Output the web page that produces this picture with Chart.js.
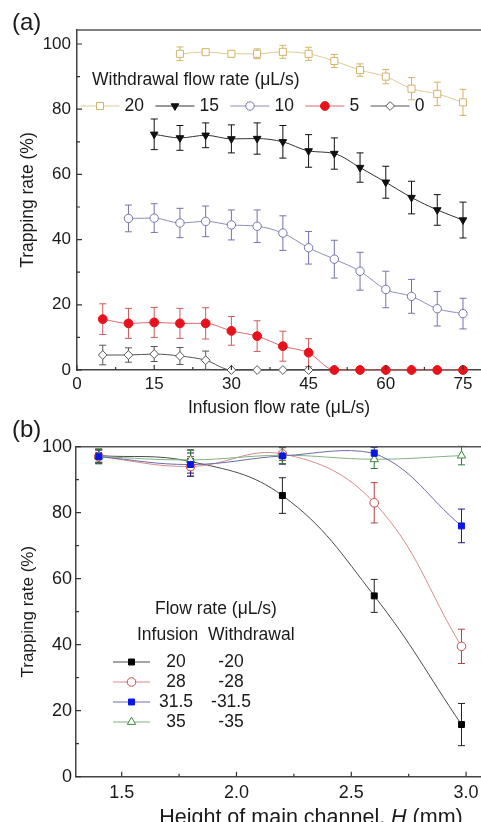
<!DOCTYPE html>
<html>
<head>
<title>Trapping rate</title>
<script src="https://cdn.jsdelivr.net/npm/chart.js"></script>
<style>
  body { margin: 0; background: #fff; }
  .panel { position: absolute; left: 0; width: 481px; }
  #panelA { top: 0; height: 422px; }
  #panelB { top: 411px; height: 411px; z-index: 1; }
</style>
</head>
<body>
<div class="panel" id="panelA"><canvas id="chartA"></canvas></div>
<div class="panel" id="panelB"><canvas id="chartB"></canvas></div>
<script>
// (a) trapping rate vs infusion flow rate, one series per withdrawal flow rate
const infusionA = [5, 10, 15, 20, 25, 30, 35, 40, 45, 50, 55, 60, 65, 70, 75];
const withdrawalA = ['20', '15', '10', '5', '0'];
const rate20 = [null, null, null, 97, 97.5, 97, 97, 97.6, 97, 94.8, 92, 90, 86.3, 84.7, 82.1];
const err20 = [null, null, null, 2.1, 0.6, 1, 1.5, 2, 2, 2, 1.9, 2.2, 3.4, 3.6, 4];
const rate15 = [null, null, 72.3, 71.2, 72, 70.9, 71, 70, 67.2, 66.4, 62.1, 57.6, 52.9, 49.1, 46];
const err15 = [null, null, 4.7, 3.8, 3.8, 4.3, 4.8, 5, 5, 4.8, 4.5, 4.9, 5, 4.7, 5.5];
const rate10 = [null, 46.5, 46.6, 45.1, 45.6, 44.5, 44.1, 42, 37.5, 34, 30.3, 24.7, 22.6, 18.8, 17.3];
const err10 = [null, 4.1, 4.4, 4.5, 4.7, 4.6, 5, 5.3, 5, 5.8, 5.8, 5.6, 5.2, 5.3, 4.7];
const rate5 = [15.6, 14.3, 14.6, 14.3, 14.3, 12, 10.4, 7.3, 5.3, 0, 0, 0, 0, 0, 0];
const err5 = [4.7, 4.6, 4.6, 4.6, 4.8, 4.4, 4.7, 4.6, 4.3, 0, 0, 0, 0, 0, 0];
const rate0 = [4.6, 4.6, 4.9, 4.3, 3, 0, 0, 0, 0, 0, 0, 0, 0, 0, 0];
const err0 = [3, 2.2, 2.3, 2.6, 2.8, 0, 0, 0, 0, 0, 0, 0, 0, 0, 0];
const xTicksA = [0, 15, 30, 45, 60, 75];
const xMinorA = [7.5, 22.5, 37.5, 52.5, 67.5];
const yTicksA = [0, 20, 40, 60, 80, 100];
const yMinorA = [10, 30, 50, 70, 90];

// (b) trapping rate vs channel height, one series per flow rate pair
const heightB = [1.4, 1.8, 2.2, 2.6, 2.98];
const infusionB = ['20', '28', '31.5', '35'];
const withdrawalB = ['-20', '-28', '-31.5', '-35'];
const trap20 = [97.3, 95.5, 85.2, 54.8, 15.8];
const trapErr20 = [2, 3.5, 5.4, 5, 6.4];
const trap28 = [97, 94, 97.8, 83, 39.5];
const trapErr28 = [2, 3, 2, 6.1, 5.2];
const trap315 = [97, 94.6, 97.2, 98, 76];
const trapErr315 = [2, 3.5, 2.5, 1.8, 5.1];
const trap35 = [97, 96, 97.4, 96.2, 97.3];
const trapErr35 = [2.2, 3, 2.5, 2.8, 2.8];
const xTicksB = [1.5, 2.0, 2.5, 3.0];
const xMinorB = [1.75, 2.25, 2.75];
const yTicksB = [0, 20, 40, 60, 80, 100];
const yMinorB = [10, 30, 50, 70, 90];

const FONT = '"Liberation Sans", Arial, Helvetica, sans-serif';
const INK = '#1a1a1a';
Chart.defaults.font.family = FONT;
Chart.defaults.color = INK;

function pts(xs, ys) {
  return xs.map((x, i) => ({ x: x, y: ys[i] })).filter(p => p.y !== null);
}
function errs(ys, es) {
  return es.filter((e, i) => ys[i] !== null);
}

// vertical error bars with caps, drawn under the lines and markers
const errorBars = {
  id: 'errorBars',
  beforeDatasetsDraw(chart) {
    const { ctx, scales: { x, y } } = chart;
    chart.data.datasets.forEach(ds => {
      if (!ds.errors) return;
      ctx.save();
      ctx.strokeStyle = ds.errorColor;
      ctx.lineWidth = 1;
      ds.data.forEach((p, i) => {
        const e = ds.errors[i];
        if (!e) return;
        const px = x.getPixelForValue(p.x);
        const top = y.getPixelForValue(p.y + e);
        const bot = y.getPixelForValue(p.y - e);
        ctx.beginPath();
        ctx.moveTo(px, top); ctx.lineTo(px, bot);
        ctx.moveTo(px - 3.5, top); ctx.lineTo(px + 3.5, top);
        ctx.moveTo(px - 3.5, bot); ctx.lineTo(px + 3.5, bot);
        ctx.stroke();
      });
      ctx.restore();
    });
  }
};

// top border and inward major/minor ticks
function makeFrame(id, majorX, minorX, majorY, minorY) {
  return {
    id: id,
    afterDraw(chart) {
      const { ctx, chartArea: a, scales: { x, y } } = chart;
      ctx.save();
      ctx.strokeStyle = '#555';
      ctx.lineWidth = 1.5;
      ctx.beginPath();
      ctx.moveTo(a.left, a.top); ctx.lineTo(a.right, a.top);
      ctx.stroke();
      ctx.strokeStyle = '#333';
      ctx.lineWidth = 1.2;
      ctx.beginPath();
      const tx = (vals, len) => vals.forEach(v => {
        const px = x.getPixelForValue(v);
        ctx.moveTo(px, a.bottom); ctx.lineTo(px, a.bottom - len);
      });
      const ty = (vals, len) => vals.forEach(v => {
        const py = y.getPixelForValue(v);
        ctx.moveTo(a.left, py); ctx.lineTo(a.left + len, py);
      });
      tx(majorX, 5); tx(minorX, 3); ty(majorY, 5); ty(minorY, 3);
      ctx.stroke();
      ctx.restore();
    }
  };
}

function drawSample(ctx, ds, cx, cy, half) {
  ctx.save();
  ctx.strokeStyle = ds.borderColor;
  ctx.lineWidth = ds.borderWidth;
  ctx.beginPath();
  ctx.moveTo(cx - half, cy); ctx.lineTo(cx + half, cy);
  ctx.stroke();
  ctx.fillStyle = ds.pointBackgroundColor;
  ctx.strokeStyle = ds.pointBorderColor;
  ctx.lineWidth = ds.pointBorderWidth;
  Chart.helpers.drawPoint(ctx, {
    pointStyle: ds.pointStyle, radius: ds.pointRadius,
    rotation: ds.pointRotation || 0, borderWidth: ds.pointBorderWidth
  }, cx, cy);
  ctx.restore();
}

function text(ctx, str, x, y, size, align) {
  ctx.font = size + 'px ' + FONT;
  ctx.fillStyle = INK;
  ctx.textAlign = align || 'left';
  ctx.textBaseline = 'middle';
  ctx.fillText(str, x, y);
}

// fixed axis boxes so the plot areas land where the figure has them
const fixX = h => s => { s.height = h; s.paddingLeft = 0; s.paddingRight = 0; };
const fixY = w => s => { s.width = w; s.paddingTop = 0; s.paddingBottom = 0; };

// ---------- chart (a) ----------
const lineA = (label, ys, es, line, mark, style, radius, fillMark, extra) => Object.assign({
  label: label, data: pts(infusionA, ys), errors: errs(ys, es), errorColor: mark,
  borderColor: line, borderWidth: 1, pointStyle: style, pointRadius: radius,
  pointBackgroundColor: fillMark ? mark : '#fff', pointBorderColor: mark, pointBorderWidth: 1,
  cubicInterpolationMode: 'monotone', fill: false, clip: false
}, extra || {});

const dsA = [
  lineA(withdrawalA[0], rate20, err20, '#dccb98', '#d2b46a', 'rect', 5, false),
  lineA(withdrawalA[1], rate15, err15, '#333', '#111', 'triangle', 4.4, true, { pointRotation: 180 }),
  lineA(withdrawalA[2], rate10, err10, '#8c8cbc', '#7474ac', 'circle', 4.2, false),
  lineA(withdrawalA[3], rate5, err5, '#d86a6a', '#e8121c', 'circle', 4.4, true, { errorColor: '#cf5a5a' }),
  lineA(withdrawalA[4], rate0, err0, '#555', '#555', 'rectRot', 4.4, false)
];

const keyA = {
  id: 'keyA',
  afterDraw(chart) {
    const ctx = chart.ctx;
    text(ctx, '(a)', 12, 23, 24);
    text(ctx, 'Withdrawal flow rate (μL/s)', 92, 80, 17.5);
    let x = 80.5;
    dsA.forEach(ds => {
      drawSample(ctx, ds, x + 19.5, 106, 19.5);
      text(ctx, ds.label, x + 44, 106, 17.5);
      ctx.font = '17.5px ' + FONT;
      x += 44 + ctx.measureText(ds.label).width + 11.5;
    });
  }
};

new Chart(document.getElementById('chartA'), {
  type: 'line',
  data: { datasets: dsA },
  options: {
    responsive: true, maintainAspectRatio: false, animation: false, events: [],
    layout: { autoPadding: false, padding: { top: 30, right: 0, left: 0, bottom: 0 } },
    plugins: { legend: { display: false }, tooltip: { enabled: false } },
    scales: {
      x: {
        type: 'linear', min: 0, max: 78.5,
        afterBuildTicks: s => { s.ticks = xTicksA.map(v => ({ value: v })); },
        afterFit: fixX(52),
        ticks: { font: { size: 17 }, padding: 4, color: INK },
        grid: { display: true, drawOnChartArea: false, drawTicks: false },
        border: { color: '#444', width: 1.5 },
        title: { display: true, text: 'Infusion flow rate (μL/s)', color: INK,
          font: { size: 17.5 }, padding: { top: 0, bottom: 3.5 } }
      },
      y: {
        type: 'linear', min: 0, max: 104.3,
        afterBuildTicks: s => { s.ticks = yTicksA.map(v => ({ value: v })); },
        afterFit: fixY(77),
        ticks: { font: { size: 17 }, padding: 6, color: INK },
        grid: { display: true, drawOnChartArea: false, drawTicks: false },
        border: { color: '#444', width: 1.5 },
        title: { display: true, text: 'Trapping rate (%)', color: INK,
          font: { size: 17.5 }, padding: { top: 17.5, bottom: 0 } }
      }
    }
  },
  plugins: [errorBars, makeFrame('frameA', xTicksA, xMinorA, yTicksA, yMinorA), keyA]
});

// ---------- chart (b) ----------
const lineB = (ys, es, line, mark, errColor, style, radius, fillMark, order, extra) => Object.assign({
  data: pts(heightB, ys), errors: es, errorColor: errColor,
  borderColor: line, borderWidth: 1, pointStyle: style, pointRadius: radius,
  pointBackgroundColor: fillMark ? mark : '#fff', pointBorderColor: mark, pointBorderWidth: 1,
  tension: 0.4, fill: false, order: order,
  clip: { left: false, right: false, bottom: false, top: 0 }
}, extra || {});

const dsB = [
  lineB(trap20, trapErr20, '#4a4a4a', '#000', '#222', 'rect', 4.2, true, 3),
  lineB(trap28, trapErr28, '#d68c8c', '#cc4848', '#b84040', 'circle', 4.3, false, 2),
  lineB(trap315, trapErr315, '#6c6cac', '#0b16e6', '#1c1c8c', 'rect', 4.2, true, 0),
  lineB(trap35, trapErr35, '#80b280', '#3a8a3a', '#2f7a3a', 'triangle', 4.8, false, 1)
];

const keyB = {
  id: 'keyB',
  afterDraw(chart) {
    const ctx = chart.ctx;
    text(ctx, '(b)', 12, 19, 24);
    text(ctx, 'Flow rate (μL/s)', 155, 198, 17.5);
    text(ctx, 'Infusion', 137, 224, 17.5);
    text(ctx, 'Withdrawal', 208, 224, 17.5);
    dsB.forEach((ds, i) => {
      const y = 251 + i * 20;
      drawSample(ctx, ds, 131.5, y, 18.5);
      text(ctx, infusionB[i], 176, y, 17.5, 'center');
      text(ctx, withdrawalB[i], 231, y, 17.5, 'center');
    });
    // x axis title with italic H, cut by the bottom of the figure
    const size = 21.5;
    const parts = [['Height of main channel, ', ''], ['H', 'italic '], [' (mm)', '']];
    let w = 0;
    parts.forEach(p => { ctx.font = p[1] + size + 'px ' + FONT; w += ctx.measureText(p[0]).width; });
    let x = 311 - w / 2;
    parts.forEach(p => {
      ctx.font = p[1] + size + 'px ' + FONT;
      ctx.fillStyle = INK;
      ctx.textAlign = 'left';
      ctx.textBaseline = 'alphabetic';
      ctx.fillText(p[0], x, 413);
      x += ctx.measureText(p[0]).width;
    });
  }
};

new Chart(document.getElementById('chartB'), {
  type: 'line',
  data: { datasets: dsB },
  options: {
    responsive: true, maintainAspectRatio: false, animation: false, events: [],
    layout: { autoPadding: false, padding: { top: 35.7, right: 0, left: 0, bottom: 0 } },
    plugins: { legend: { display: false }, tooltip: { enabled: false } },
    scales: {
      x: {
        type: 'linear', min: 1.301, max: 3.065,
        afterBuildTicks: s => { s.ticks = xTicksB.map(v => ({ value: v })); },
        afterFit: fixX(45.3),
        ticks: { font: { size: 18 }, padding: 6, color: INK, callback: v => v.toFixed(1) },
        grid: { display: true, drawOnChartArea: false, drawTicks: false },
        border: { color: '#444', width: 1.5 }
      },
      y: {
        type: 'linear', min: 0, max: 100,
        afterBuildTicks: s => { s.ticks = yTicksB.map(v => ({ value: v })); },
        afterFit: fixY(76),
        ticks: { font: { size: 18 }, padding: 4, color: INK },
        grid: { display: true, drawOnChartArea: false, drawTicks: false },
        border: { color: '#444', width: 1.5 },
        title: { display: true, text: 'Trapping rate (%)', color: INK,
          font: { size: 17 }, padding: { top: 18.5, bottom: 0 } }
      }
    }
  },
  plugins: [errorBars, makeFrame('frameB', xTicksB, xMinorB, yTicksB, yMinorB), keyB]
});
</script>
</body>
</html>
